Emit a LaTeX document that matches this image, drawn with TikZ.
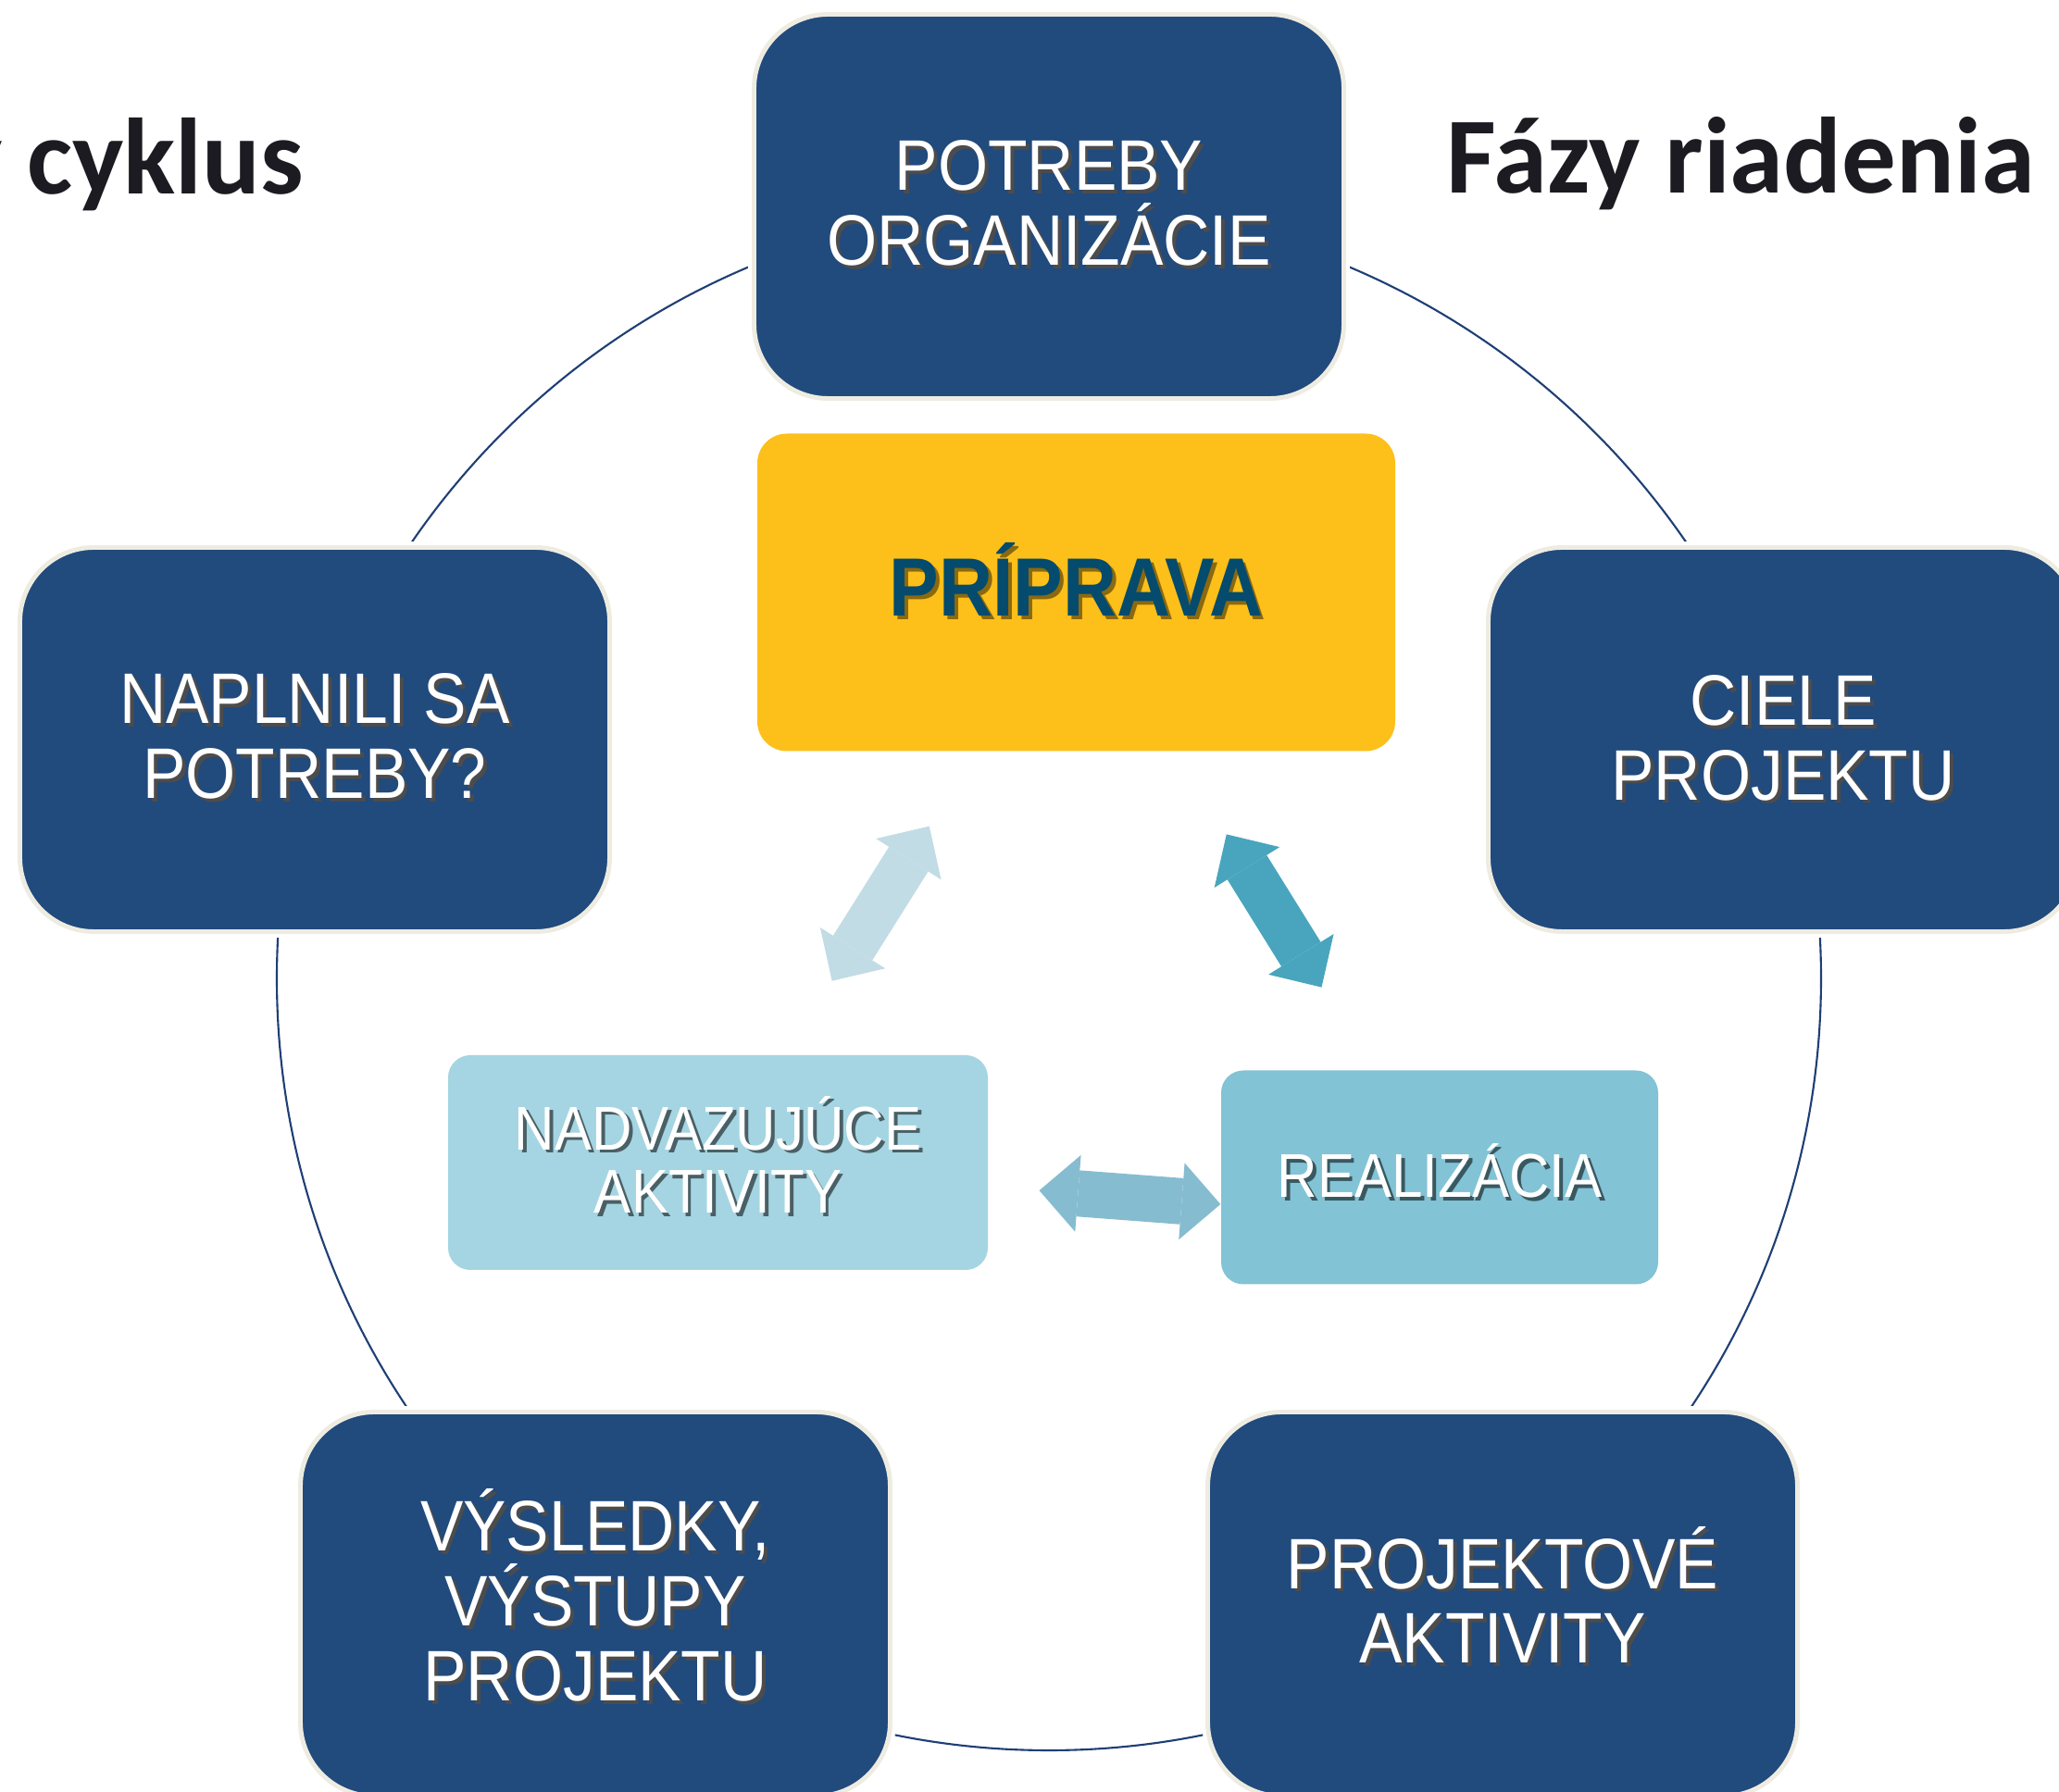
\documentclass[tikz,border=0pt]{standalone}
\usepackage{fontspec}
\setmainfont{Liberation Sans}
\newfontfamily\boxfont{Liberation Sans}[FakeStretch=0.9]
\newfontfamily\titlefont{Carlito}
\usetikzlibrary{arrows.meta}

\definecolor{phaseblue}{HTML}{214A7D}
\definecolor{phaseedge}{HTML}{EEECE1}
\definecolor{ringblue}{HTML}{1F3F75}
\definecolor{prepyellow}{HTML}{FDBF1A}
\definecolor{preptext}{HTML}{044B6D}
\definecolor{followcol}{HTML}{A5D5E2}
\definecolor{realcol}{HTML}{82C3D6}
\definecolor{arrowpale}{HTML}{C1DCE5}
\definecolor{arrowteal}{HTML}{48A5BD}
\definecolor{arrowmid}{HTML}{86BCD0}
\definecolor{titleblack}{HTML}{1C1B21}

% text with a small drop shadow
\newcommand{\shtxt}[2]{\makebox[0pt][l]{\kern1.1pt\raisebox{-1.1pt}{\color{#1}#2}}#2}

\tikzset{
  phase/.style={draw=phaseedge, line width=1.4pt, fill=phaseblue,
    rounded corners=0.8cm, minimum width=6.37cm, minimum height=4.15cm,
    text=white, align=center, font=\boxfont\fontsize{22}{23}\selectfont,
    preaction={draw=white, line width=3.6pt}},
  stagebox/.style={rounded corners=0.24cm, text=white, align=center,
    font=\boxfont\fontsize{19}{19.6}\selectfont},
  title/.style={inner sep=0pt, text=titleblack,
    font=\titlefont\bfseries\fontsize{33.3}{35}\selectfont},
  blockarrow/.style={line width=0.5cm,
    {Triangle[length=0.42cm, width=0.83cm, line width=0pt]}-{Triangle[length=0.42cm, width=0.83cm, line width=0pt]}}
}

\begin{document}
\begin{tikzpicture}
    \fill[white] (0,0) rectangle (22.24,19.36);
    \useasboundingbox (0,0) rectangle (22.24,19.36);

    % Titles
    \node[title, anchor=base east] (cyklus) at (3.29,17.26) {Projektový cyklus};
    \node[title, anchor=base west] (fazy) at (15.62,17.27) {Fázy riadenia};

    % Cycle ring
    \coordinate (ctr) at (11.33,8.79);
    \draw[ringblue, line width=0.6pt] (ctr) circle (8.34cm);

    % Phases on the ring
    \node[phase, text depth=0.08cm] (potreby) at (11.33,17.13)
        {\shtxt{black!70}{POTREBY}\\\shtxt{black!70}{ORGANIZÁCIE}};
    \node[phase] (ciele) at (19.26,11.37)
        {\shtxt{black!70}{CIELE}\\\shtxt{black!70}{PROJEKTU}};
    \node[phase, text depth=0.2cm] (projakt) at (16.23,2.03)
        {\shtxt{black!70}{PROJEKTOVÉ}\\\shtxt{black!70}{AKTIVITY}};
    \node[phase, text depth=0.2cm] (vysledky) at (6.43,2.03)
        {\shtxt{black!70}{VÝSLEDKY,}\\\shtxt{black!70}{VÝSTUPY}\\\shtxt{black!70}{PROJEKTU}};
    \node[phase, text depth=0.08cm] (naplnili) at (3.40,11.37)
        {\shtxt{black!70}{NAPLNILI SA}\\\shtxt{black!70}{POTREBY?}};

    % Management stages
    \node[fill=prepyellow, rounded corners=0.32cm, minimum width=6.89cm,
        minimum height=3.43cm, text=preptext, text depth=0.28cm,
        font=\boxfont\bfseries\fontsize{25.4}{26}\selectfont] (priprava) at (11.625,12.96)
        {\shtxt{black!45!prepyellow}{PRÍPRAVA}};
    \node[stagebox, fill=followcol, minimum width=5.83cm, minimum height=2.32cm,
        text depth=0.17cm] (nadvaz) at (7.755,6.80)
        {\shtxt{followcol!45!black}{NADVAZUJÚCE}\\\shtxt{followcol!45!black}{AKTIVITY}};
    \node[stagebox, fill=realcol, minimum width=4.72cm, minimum height=2.31cm,
        text depth=0.14cm] (realiz) at (15.55,6.64)
        {\shtxt{realcol!45!black}{REALIZÁCIA}};

    % Arrows between stages
    \draw[blockarrow, arrowpale, shorten <=0.95cm, shorten >=0.94cm] (priprava) -- (nadvaz);
    \draw[blockarrow, arrowteal, shorten <=1.05cm, shorten >=1.05cm] (priprava) -- (realiz);
    \draw[blockarrow, arrowmid, shorten <=0.55cm] ([yshift=-0.26cm]nadvaz.east) -- ([yshift=-0.29cm]realiz.west);
\end{tikzpicture}
\end{document}
